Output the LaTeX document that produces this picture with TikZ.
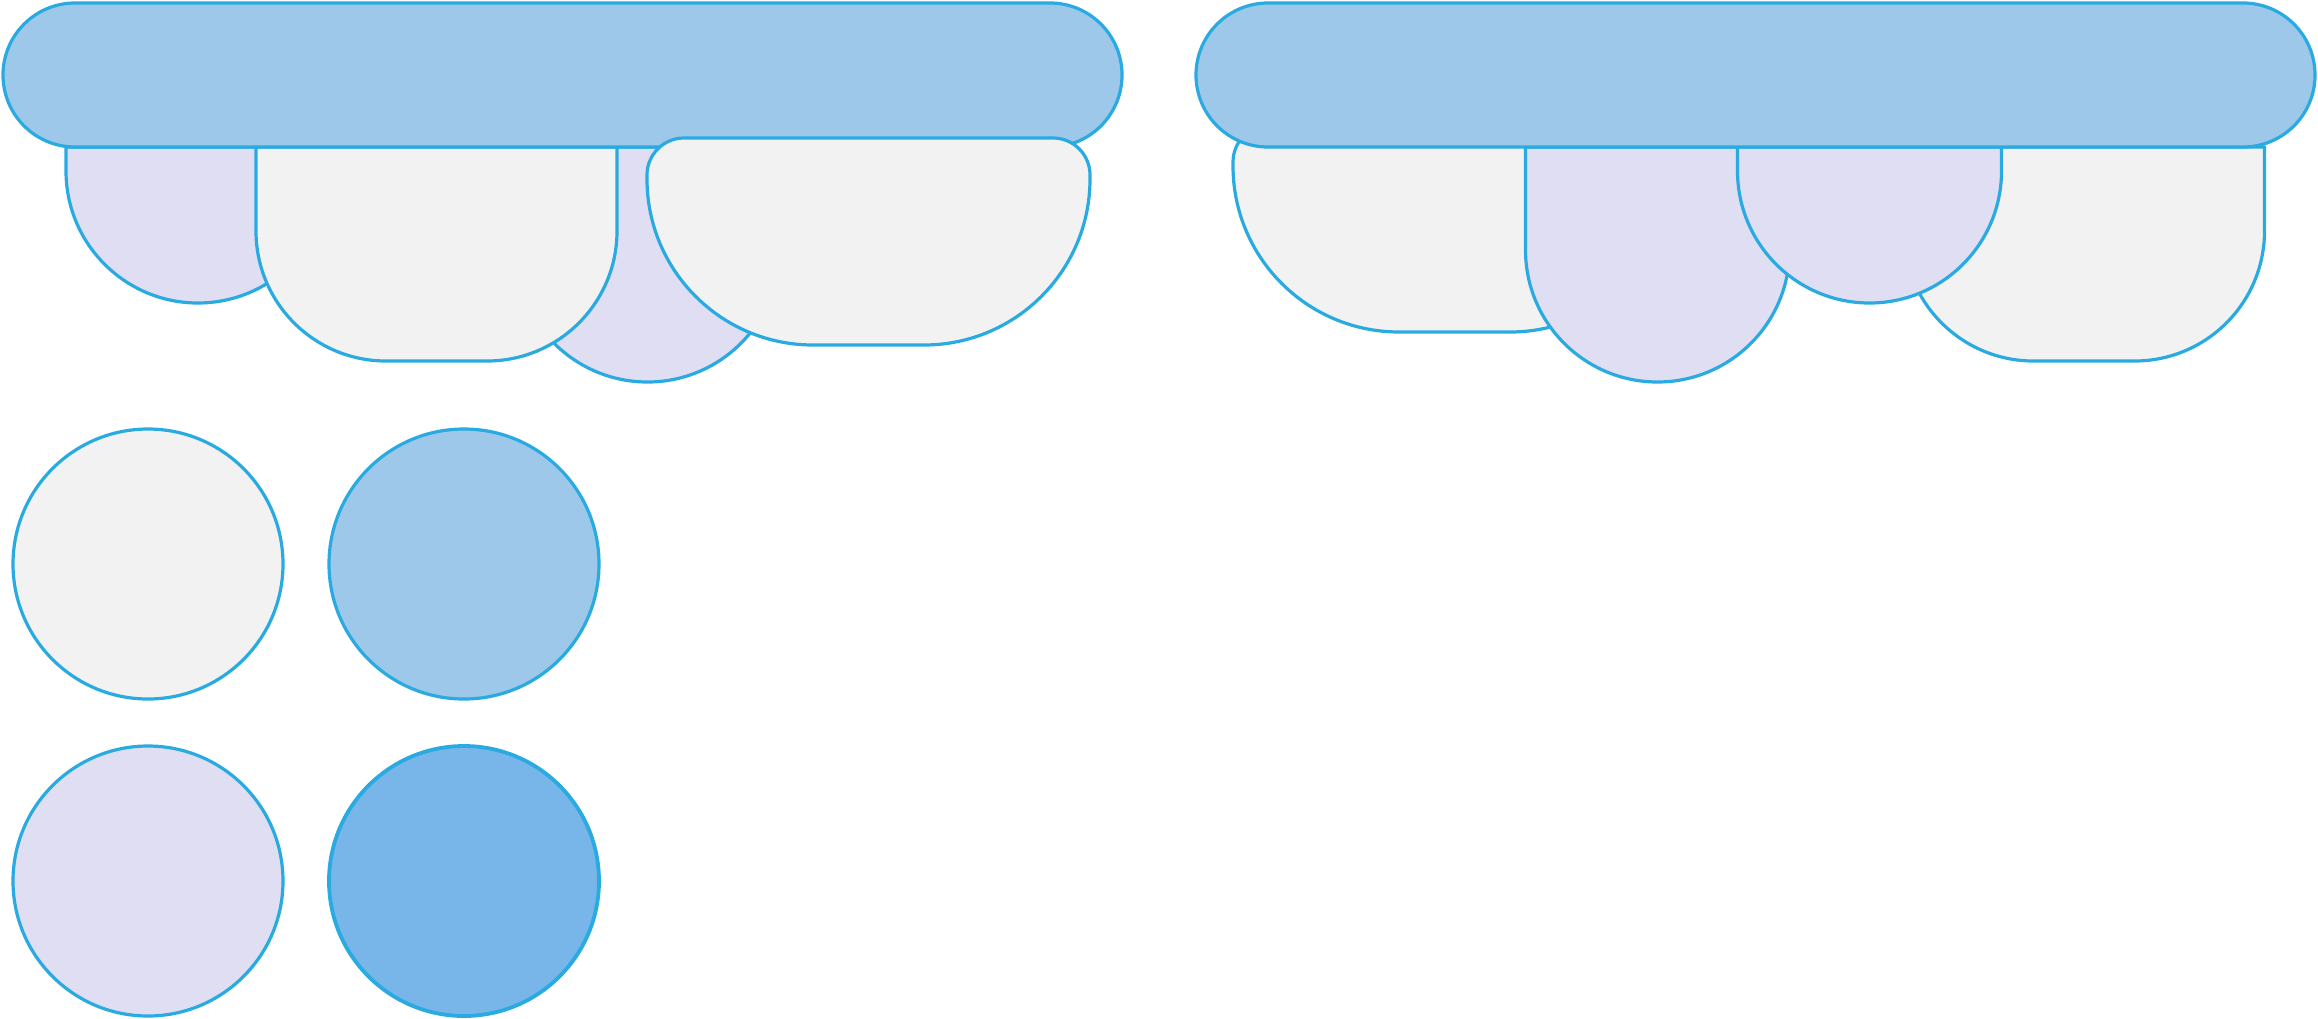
\documentclass[tikz,border=0pt]{standalone}
\definecolor{strokeblue}{HTML}{29ABE2}
\definecolor{barblue}{HTML}{9DC8E9}
\definecolor{lightgray}{HTML}{F2F2F2}
\definecolor{lilac}{HTML}{E0DEF2}
\definecolor{midblue}{HTML}{78B5E8}
% rounded box: x1,y1,x2,y2,top radius,bottom radius (y grows downward)
\newcommand\rbox[6]{(#1,#2+#5) arc[start angle=180,end angle=270,radius=#5] -- (#3-#5,#2) arc[start angle=270,end angle=360,radius=#5] -- (#3,#4-#6) arc[start angle=0,end angle=90,radius=#6] -- (#1+#6,#4) arc[start angle=90,end angle=180,radius=#6] -- cycle}
\tikzset{
  shapeline/.style={draw=strokeblue,line width=1.6pt,line join=round},
  barshape/.style={shapeline,fill=barblue},
  grayshape/.style={shapeline,fill=lightgray},
  lilacshape/.style={shapeline,fill=lilac},
  darkshape/.style={shapeline,fill=midblue,line width=1.9pt},
}
\begin{document}
\begin{tikzpicture}[x=0.5pt,y=-0.5pt]
\useasboundingbox (0,0) rectangle (2318,1018);
% ---- left group
\path[lilacshape] \rbox{66}{147}{330}{303}{0.01}{132};
\path[lilacshape] \rbox{515.5}{147}{779.5}{382}{0.01}{132};
\path[grayshape] \rbox{256}{147}{617}{361}{0.01}{130};
\path[barshape] \rbox{3}{3}{1122}{147}{72}{72};
\path[grayshape] \rbox{647}{138}{1090}{345}{37}{166};
% ---- right group
\path[grayshape] \rbox{1233}{125}{1676}{332}{37}{166};
\path[grayshape] \rbox{1903.5}{147}{2264.5}{361}{0.01}{130};
\path[lilacshape] \rbox{1525.5}{147}{1789.5}{382}{0.01}{132};
\path[lilacshape] \rbox{1737.5}{147}{2001.5}{303}{0.01}{132};
\path[barshape] \rbox{1196}{3}{2315}{147}{72}{72};
% ---- legend circles
\path[grayshape] (148,564) circle[radius=135];
\path[barshape] (464,564) circle[radius=135];
\path[lilacshape] (148,881) circle[radius=135];
\path[darkshape] (464,881) circle[radius=135];
\end{tikzpicture}
\end{document}
